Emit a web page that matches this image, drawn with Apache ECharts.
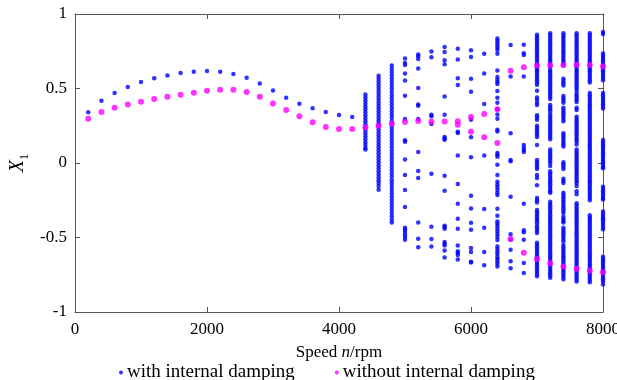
<!DOCTYPE html>
<html>
<head>
<meta charset="utf-8">
<script src="https://cdn.jsdelivr.net/npm/echarts@6/dist/echarts.min.js"></script>
<style>html,body{margin:0;padding:0;background:#fff}#c{width:617px;height:380px}</style>
</head>
<body>
<div id="c"></div>
<script>
// ---- data ----
const xTicks = [0, 2000, 4000, 6000, 8000];
const yTicks = [-1, -0.5, 0, 0.5, 1];

// with internal damping: period-1 region
const speedsLow = [200,400,600,800,1000,1200,1400,1600,1800,2000,2200,2400,2600,2800,3000,3200,3400,3600,3800,4000,4200];
const withLow = [0.34,0.418,0.47,0.51,0.543,0.568,0.588,0.604,0.613,0.617,0.613,0.597,0.572,0.534,0.487,0.438,0.398,0.367,0.342,0.322,0.309];

// with internal damping: multi-valued region
const speedsHigh = [4400,4600,4800,5000,5200,5400,5600,5800,6000,6200,6400,6600,6800,7000,7200,7400,7600,7800,8000];
const w4400 = [0.46,0.44,0.42,0.40,0.38,0.36,0.34,0.32,0.30,0.28,0.26,0.24,0.22,0.20,0.18,0.16,0.14,0.12,0.10,0.09];
const w4600 = [0.585,0.565,0.545,0.525,0.505,0.485,0.465,0.445,0.425,0.405,0.385,0.365,0.345,0.325,0.305,0.285,0.265,0.245,0.225,0.205,0.185,0.165,0.145,0.125,0.105,0.085,0.065,0.045,0.025,0.005,-0.015,-0.035,-0.055,-0.075,-0.095,-0.115,-0.135,-0.155,-0.18];
const w4800 = [0.655,0.633,0.611,0.589,0.567,0.545,0.523,0.501,0.479,0.457,0.435,0.413,0.391,0.369,0.347,0.325,0.303,0.281,0.259,0.237,0.215,0.193,0.171,0.149,0.127,0.105,0.083,0.061,0.039,0.017,-0.005,-0.027,-0.049,-0.071,-0.093,-0.115,-0.137,-0.159,-0.181,-0.203,-0.225,-0.247,-0.269,-0.291,-0.313,-0.335,-0.357,-0.379,-0.40];
const w5000 = [0.702,0.671,0.658,0.601,0.554,0.451,0.295,0.152,0.143,0.024,-0.081,-0.181,-0.295,-0.434,-0.446,-0.461,-0.48,-0.497,-0.515];
const w5200 = [0.729,0.716,0.698,0.635,0.503,0.392,0.385,0.295,0.074,-0.054,-0.101,-0.399,-0.508,-0.566];
const w5400 = [0.749,0.709,0.324,0.313,0.262,-0.072,-0.428,-0.51,-0.56];
const w5600 = [0.778,0.745,0.689,0.662,0.447,0.324,0.174,0.165,0.156,-0.085,-0.186,-0.421,-0.43,-0.441,-0.53,-0.542,-0.553,-0.587,-0.634];
const w5800 = [0.767,0.695,0.568,0.523,0.21,0.201,0.051,-0.141,-0.273,-0.374,-0.441,-0.553,-0.593,-0.604,-0.617,-0.647];
const w6000 = [0.756,0.711,0.566,0.479,0.291,0.172,0.038,-0.219,-0.305,-0.401,-0.448,-0.571,-0.597,-0.662,-0.667];
const w6200 = [0.734,0.601,0.396,0.051,-0.309,-0.434,-0.597,-0.687];
const w6400 = [0.836,0.821,0.805,0.789,0.774,0.758,0.734,0.621,0.577,0.559,0.544,0.53,0.483,0.438,0.405,0.362,0.326,0.297,0.223,0.212,0.067,0.056,0.042,-0.011,-0.081,-0.126,-0.144,-0.161,-0.179,-0.199,-0.215,-0.307,-0.354,-0.392,-0.407,-0.423,-0.441,-0.459,-0.479,-0.497,-0.517,-0.56,-0.577,-0.595,-0.611,-0.631,-0.644,-0.66,-0.677,-0.694];
const w6600 = [0.792,0.581,0.199,0.02,0.011,-0.226,-0.479,-0.515,-0.582,-0.66,-0.707];
const w6800 = [0.794,0.736,0.725,0.581,0.121,0.103,0.087,0.074,-0.273,-0.452,-0.465,-0.515,-0.671,-0.738];
const w7000 = [0.86,0.845,0.83,0.815,0.80,0.785,0.77,0.755,0.74,0.725,0.71,0.695,0.68,0.665,0.645,0.63,0.615,0.60,0.585,0.57,0.555,0.54,0.525,0.485,0.44,0.425,0.405,0.39,0.32,0.305,0.29,0.25,0.235,0.22,0.205,0.19,0.175,0.12,0.02,0.005,-0.01,-0.025,-0.04,-0.08,-0.10,-0.15,-0.235,-0.25,-0.265,-0.315,-0.33,-0.345,-0.36,-0.375,-0.39,-0.405,-0.425,-0.44,-0.455,-0.47,-0.535,-0.55,-0.565,-0.58,-0.595,-0.61,-0.625,-0.64,-0.655,-0.67,-0.685,-0.70,-0.715,-0.73,-0.745,-0.76];
const w7200 = [0.87,0.855,0.84,0.825,0.81,0.795,0.78,0.765,0.75,0.735,0.72,0.705,0.69,0.675,0.66,0.645,0.625,0.61,0.595,0.58,0.565,0.55,0.535,0.52,0.505,0.49,0.475,0.46,0.445,0.43,0.39,0.375,0.36,0.345,0.325,0.31,0.295,0.28,0.265,0.25,0.235,0.22,0.205,0.19,0.175,0.16,0.09,0.075,0.06,0.045,0.03,0.015,0,-0.02,-0.055,-0.07,-0.085,-0.10,-0.115,-0.13,-0.145,-0.16,-0.175,-0.19,-0.20,-0.26,-0.275,-0.29,-0.305,-0.32,-0.335,-0.35,-0.365,-0.38,-0.395,-0.41,-0.425,-0.44,-0.455,-0.47,-0.485,-0.50,-0.515,-0.53,-0.545,-0.56,-0.575,-0.59,-0.605,-0.62,-0.635,-0.65,-0.665,-0.68,-0.695,-0.71,-0.725,-0.74,-0.755,-0.77];
const w7400 = [0.87,0.855,0.84,0.825,0.81,0.795,0.78,0.765,0.75,0.735,0.72,0.705,0.69,0.675,0.66,0.565,0.55,0.535,0.52,0.45,0.435,0.42,0.405,0.37,0.355,0.34,0.325,0.31,0.295,0.28,0.20,0.185,0.17,0.155,0.14,0.125,0.11,0.005,-0.01,-0.025,-0.04,-0.105,-0.12,-0.135,-0.20,-0.215,-0.23,-0.245,-0.26,-0.275,-0.29,-0.305,-0.32,-0.335,-0.36,-0.375,-0.39,-0.40,-0.435,-0.45,-0.465,-0.48,-0.495,-0.51,-0.525,-0.55,-0.565,-0.58,-0.595,-0.61,-0.625,-0.64,-0.655,-0.67,-0.685,-0.705,-0.72,-0.735,-0.75,-0.765,-0.78];
const w7600 = [0.87,0.855,0.84,0.825,0.81,0.795,0.78,0.765,0.75,0.735,0.72,0.705,0.69,0.675,0.655,0.64,0.625,0.61,0.595,0.58,0.565,0.55,0.535,0.52,0.505,0.49,0.47,0.455,0.44,0.425,0.41,0.37,0.355,0.31,0.295,0.28,0.265,0.25,0.235,0.22,0.205,0.19,0.175,0.16,0.145,0.125,0.09,0.075,0.06,0.045,0.03,0.015,0,-0.015,-0.03,-0.045,-0.06,-0.075,-0.09,-0.105,-0.12,-0.135,-0.155,-0.19,-0.21,-0.27,-0.285,-0.30,-0.315,-0.33,-0.345,-0.36,-0.375,-0.39,-0.405,-0.42,-0.435,-0.45,-0.465,-0.48,-0.495,-0.51,-0.525,-0.54,-0.555,-0.57,-0.585,-0.60,-0.615,-0.63,-0.645,-0.66,-0.675,-0.69,-0.705,-0.72,-0.735,-0.75,-0.765,-0.78,-0.795];
const w7800 = [0.87,0.855,0.84,0.825,0.81,0.795,0.78,0.765,0.75,0.735,0.72,0.705,0.69,0.675,0.66,0.645,0.63,0.615,0.60,0.585,0.57,0.555,0.54,0.47,0.455,0.44,0.425,0.41,0.395,0.38,0.365,0.35,0.335,0.32,0.305,0.29,0.275,0.26,0.245,0.23,0.215,0.20,0.185,0.17,0.155,0.14,0.125,0.11,0.095,0.08,0.065,0.05,0.035,0.02,0.005,-0.01,-0.025,-0.04,-0.055,-0.07,-0.085,-0.10,-0.115,-0.13,-0.145,-0.16,-0.175,-0.19,-0.205,-0.22,-0.235,-0.25,-0.35,-0.365,-0.38,-0.395,-0.41,-0.425,-0.44,-0.455,-0.47,-0.485,-0.50,-0.515,-0.53,-0.545,-0.56,-0.575,-0.59,-0.605,-0.62,-0.635,-0.65,-0.665,-0.68,-0.695,-0.71,-0.725,-0.74,-0.755,-0.77,-0.785,-0.80];
const w8000 = [0.88,0.865,0.735,0.72,0.705,0.69,0.675,0.66,0.645,0.63,0.615,0.60,0.585,0.57,0.555,0.47,0.455,0.44,0.425,0.41,0.395,0.38,0.365,0.155,0.14,0.125,0.11,0.095,0.08,0.065,0.05,0.035,0.02,0.005,-0.01,-0.025,-0.035,-0.16,-0.175,-0.19,-0.205,-0.22,-0.235,-0.245,-0.325,-0.34,-0.355,-0.37,-0.385,-0.40,-0.415,-0.43,-0.445,-0.63,-0.645,-0.66,-0.675,-0.69,-0.705,-0.72,-0.735,-0.75,-0.765,-0.78,-0.795,-0.815];
const withHigh = [w4400,w4600,w4800,w5000,w5200,w5400,w5600,w5800,w6000,w6200,w6400,w6600,w6800,w7000,w7200,w7400,w7600,w7800,w8000];

// without internal damping
const speedsSingle = [200,400,600,800,1000,1200,1400,1600,1800,2000,2200,2400,2600,2800,3000,3200,3400,3600,3800,4000,4200,4400,4600,4800,5000,5200,5400,5600];
const withoutSingle = [0.297,0.342,0.371,0.393,0.411,0.43,0.445,0.458,0.472,0.485,0.492,0.492,0.476,0.444,0.40,0.356,0.313,0.273,0.242,0.228,0.228,0.239,0.25,0.264,0.276,0.282,0.279,0.278];
const speedsPair = [5800,6000,6200,6400,6600,6800,7000,7200,7400,7600,7800,8000];
const withoutUpper = [0.28,0.309,0.329,0.36,0.619,0.642,0.655,0.656,0.656,0.66,0.658,0.647];
const withoutLower = [0.257,0.21,0.172,0.134,-0.51,-0.603,-0.644,-0.672,-0.695,-0.709,-0.722,-0.733];

const seriesNames = ['with internal damping', 'without internal damping'];

// ---- build ----
const blue = [];
speedsLow.forEach((s, i) => blue.push([s, withLow[i]]));
speedsHigh.forEach((s, i) => withHigh[i].forEach(v => blue.push([s, v])));
const pink = [];
speedsSingle.forEach((s, i) => pink.push([s, withoutSingle[i]]));
speedsPair.forEach((s, i) => { pink.push([s, withoutUpper[i]]); pink.push([s, withoutLower[i]]); });

const FONT = 'Liberation Serif';
const axisLineStyle = { color: '#555', width: 1 };
const chart = echarts.init(document.getElementById('c'), null, { renderer: 'canvas' });
chart.setOption({
  animation: false,
  textStyle: { fontFamily: FONT, color: '#000' },
  grid: { left: 75, right: 14, top: 14, bottom: 68, containLabel: false, outerBoundsMode: 'none' },
  legend: {
    top: 358, left: 114,
    itemWidth: 4, itemHeight: 4, itemGap: 40,
    icon: 'circle',
    textStyle: { fontFamily: FONT, fontSize: 19, color: '#000', padding: [0, 0, 0, -1] },
    data: seriesNames
  },
  xAxis: [{
    type: 'value', position: 'bottom', min: xTicks[0], max: xTicks[xTicks.length - 1], interval: 2000,
    axisLine: { show: true, onZero: false, lineStyle: axisLineStyle },
    axisTick: { show: true, inside: true, length: 5, lineStyle: axisLineStyle },
    axisLabel: { fontFamily: FONT, fontSize: 17, color: '#000', margin: 9, formatter: v => String(v) },
    splitLine: { show: false },
    name: '{a|Speed }{i|n}{a|/rpm}', nameLocation: 'middle', nameGap: 32, nameMoveOverlap: false,
    nameTextStyle: { rich: { a: { fontFamily: FONT, fontSize: 17, color: '#000' }, i: { fontFamily: FONT, fontSize: 17, fontStyle: 'italic', color: '#000' } } }
  }, {
    type: 'value', position: 'top', min: xTicks[0], max: xTicks[xTicks.length - 1], interval: 2000,
    axisLine: { show: true, onZero: false, lineStyle: axisLineStyle },
    axisTick: { show: true, inside: true, length: 5, lineStyle: axisLineStyle },
    axisLabel: { show: false }, splitLine: { show: false }
  }],
  yAxis: [{
    type: 'value', position: 'left', min: yTicks[0], max: yTicks[yTicks.length - 1], interval: 0.5,
    axisLine: { show: true, onZero: false, lineStyle: axisLineStyle },
    axisTick: { show: true, inside: true, length: 5, lineStyle: axisLineStyle },
    axisLabel: { fontFamily: FONT, fontSize: 17, color: '#000', margin: 8, formatter: v => String(v) },
    splitLine: { show: false },
    name: '{i|X}{s|1}', nameLocation: 'middle', nameGap: 44, nameRotate: 90, nameMoveOverlap: false,
    nameTextStyle: { rich: {
      i: { fontFamily: FONT, fontSize: 20, fontStyle: 'italic', color: '#000', verticalAlign: 'middle' },
      s: { fontFamily: FONT, fontSize: 13, color: '#000', verticalAlign: 'middle', padding: [14, 0, 0, 0] }
    } }
  }, {
    type: 'value', position: 'right', min: yTicks[0], max: yTicks[yTicks.length - 1], interval: 0.5,
    axisLine: { show: true, onZero: false, lineStyle: axisLineStyle },
    axisTick: { show: true, inside: true, length: 5, lineStyle: axisLineStyle },
    axisLabel: { show: false }, splitLine: { show: false }
  }],
  series: [{
    name: seriesNames[0], type: 'scatter', xAxisIndex: 0, yAxisIndex: 0,
    symbol: 'circle', symbolSize: 4.5, itemStyle: { color: '#0000ff' }, data: blue, z: 2
  }, {
    name: seriesNames[1], type: 'scatter', xAxisIndex: 0, yAxisIndex: 0,
    symbol: 'circle', symbolSize: 6, itemStyle: { color: '#ff00ff' }, data: pink, z: 3
  }]
});
</script>
</body>
</html>
